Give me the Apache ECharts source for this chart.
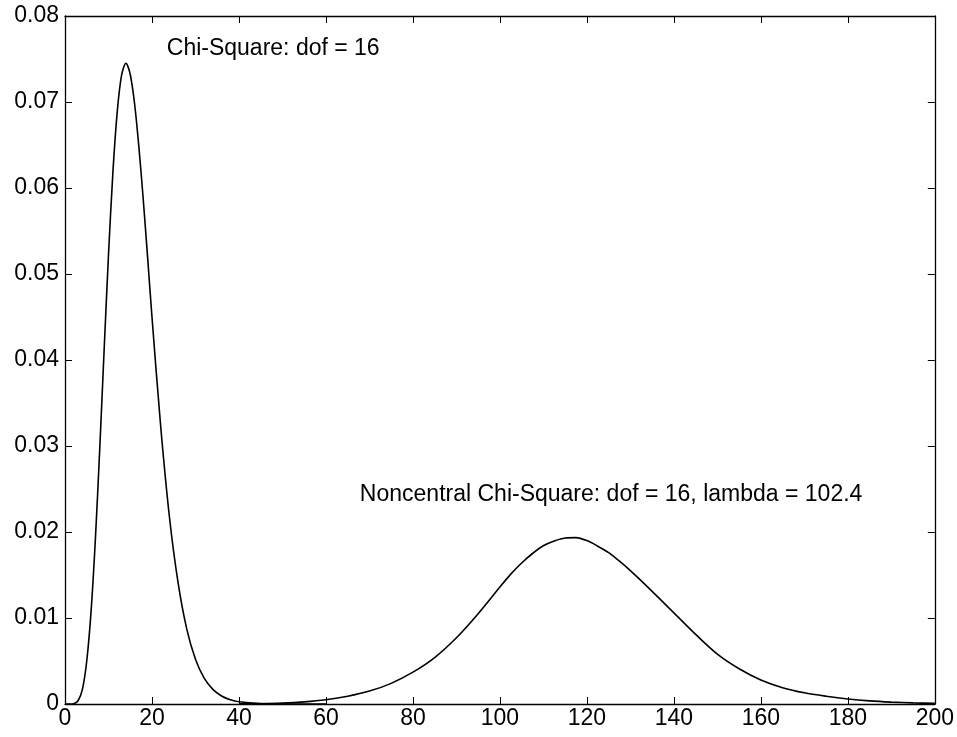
<!DOCTYPE html>
<html>
<head>
<meta charset="utf-8">
<script src="https://cdn.jsdelivr.net/npm/echarts@6/dist/echarts.min.js"></script>
<style>html,body{margin:0;padding:0;background:#fff;}#c{width:957px;height:737px;}</style>
</head>
<body>
<div id="c"></div>
<script>
// Central chi-square (dof = 16) curve
const chiX = [0,1,2,3,4,5,6,7,8,9,10,11,12,13,14,15,16,17,18,19,20,22,24,26,28,30,32,34,36,38,40,45,50,55,60];
const chiY = [0,0.000001,0.000037,0.00038,0.0017,0.0050,0.0108,0.0193,0.0298,0.0412,0.0522,0.0617,0.0688,0.0731,0.0745,0.0732,0.0698,0.0647,0.0586,0.0519,0.0450,0.0323,0.0218,0.0141,0.0087,0.0052,0.0030,0.0017,0.00093,0.0005,0.00026,0.00005,0.00001,0,0];
// Noncentral chi-square (dof = 16, lambda = 102.4) curve
const ncX = [40,45,50,55,60,65,70,75,80,85,90,95,100,102.5,105,107.5,110,112.5,115,117.5,120,122.5,125,127.5,130,135,140,145,150,155,160,165,170,175,180,185,190,195,200];
const ncY = [0.00001,0.00003,0.0001,0.00025,0.0005,0.0009,0.0015,0.0024,0.0037,0.0054,0.0077,0.0105,0.0136,0.0151,0.0164,0.0175,0.0184,0.01895,0.0193,0.01935,0.0190,0.01835,0.0176,0.0166,0.0155,0.0131,0.0106,0.0081,0.0058,0.0041,0.0028,0.0019,0.0013,0.0009,0.00058,0.00036,0.00022,0.00013,0.00007];
const xTicks = [0,20,40,60,80,100,120,140,160,180,200];
const yTicks = [0,0.01,0.02,0.03,0.04,0.05,0.06,0.07,0.08];
const labels = [
  {text: 'Chi-Square: dof = 16', x: 23.4, y: 0.0762},
  {text: 'Noncentral Chi-Square: dof = 16, lambda = 102.4', x: 67.8, y: 0.0244}
];

const font = 'Liberation Sans, Arial, Helvetica, sans-serif';
const chart = echarts.init(document.getElementById('c'), null, {renderer: 'canvas'});
const axisLine = {show: true, onZero: false, lineStyle: {color: '#000', width: 1.3}};
const axisTick = {show: true, inside: true, length: 7, lineStyle: {color: '#000', width: 1}};
chart.setOption({
  animation: false,
  backgroundColor: '#fff',
  grid: {left: 65, right: 22, top: 16, bottom: 33},
  xAxis: [
    {type: 'value', min: xTicks[0], max: xTicks[xTicks.length-1], interval: 20, position: 'bottom',
     axisLine, axisTick, splitLine: {show: false},
     axisLabel: {color: '#000', fontSize: 23, fontFamily: font, margin: 3}},
    {type: 'value', min: xTicks[0], max: xTicks[xTicks.length-1], interval: 20, position: 'top',
     axisLine, axisTick, splitLine: {show: false}, axisLabel: {show: false}}
  ],
  yAxis: [
    {type: 'value', min: yTicks[0], max: yTicks[yTicks.length-1], interval: 0.01, position: 'left',
     axisLine, axisTick, splitLine: {show: false},
     axisLabel: {color: '#000', fontSize: 23, fontFamily: font, margin: 6,
       formatter: v => v === 0 ? '0' : v.toFixed(2)}},
    {type: 'value', min: yTicks[0], max: yTicks[yTicks.length-1], interval: 0.01, position: 'right',
     axisLine, axisTick, splitLine: {show: false}, axisLabel: {show: false}}
  ],
  series: [
    {type: 'line', smooth: 0.3, showSymbol: false, data: chiX.map((x, i) => [x, chiY[i]]),
     lineStyle: {color: '#000', width: 1.6},
     markPoint: {symbol: 'circle', symbolSize: 0, silent: true,
       data: labels.map(l => ({coord: [l.x, l.y], value: l.text})),
       label: {show: true, position: 'right', distance: 0, color: '#000', fontSize: 23, fontFamily: font,
         formatter: p => p.value}}},
    {type: 'line', smooth: 0.3, showSymbol: false, data: ncX.map((x, i) => [x, ncY[i]]),
     lineStyle: {color: '#000', width: 1.6}}
  ]
});
</script>
</body>
</html>
